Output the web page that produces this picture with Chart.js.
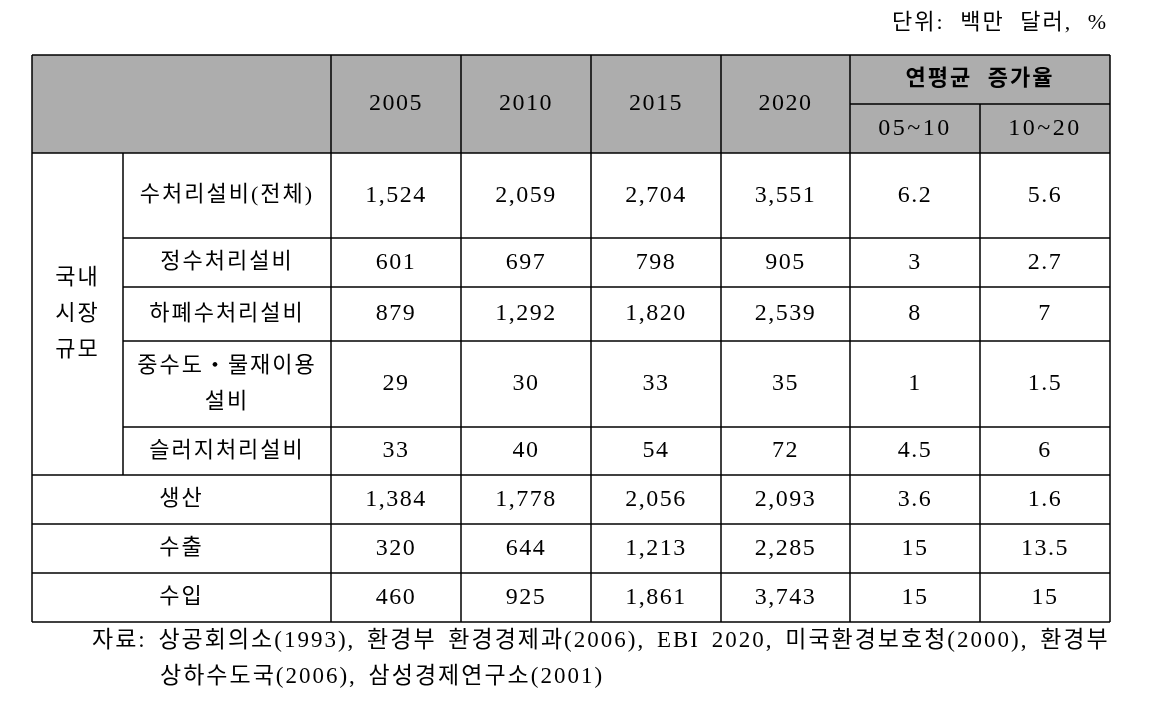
<!DOCTYPE html>
<html>
<head>
<meta charset="utf-8">
<script src="https://cdn.jsdelivr.net/npm/chart.js@4.4.1/dist/chart.umd.min.js"></script>
<style>
    html, body { margin: 0; padding: 0; background: #fff; }
    #wrap { width: 1159px; height: 709px; position: relative; }
</style>
</head>
<body>
<div id="wrap"><canvas id="table-chart"></canvas></div>
<script>
// 표 데이터
const unitText = '단위: 백만 달러, %';
const years = ['2005', '2010', '2015', '2020'];
const rateTitle = '연평균 증가율';
const rateLabels = ['05~10', '10~20'];
const groupLabel = ['국내', '시장', '규모'];
const rowLabels = [
    ['수처리설비(전체)'],
    ['정수처리설비'],
    ['하폐수처리설비'],
    ['중수도・물재이용', '설비'],
    ['슬러지처리설비'],
    ['생산'],
    ['수출'],
    ['수입']
];
const v2005 = [1524, 601, 879, 29, 33, 1384, 320, 460];
const v2010 = [2059, 697, 1292, 30, 40, 1778, 644, 925];
const v2015 = [2704, 798, 1820, 33, 54, 2056, 1213, 1861];
const v2020 = [3551, 905, 2539, 35, 72, 2093, 2285, 3743];
const g0510 = [6.2, 3, 8, 1, 4.5, 3.6, 15, 15];
const g1020 = [5.6, 2.7, 7, 1.5, 6, 1.6, 13.5, 15];
const sourceLines = [
    '자료: 상공회의소(1993), 환경부 환경경제과(2006), EBI 2020, 미국환경보호청(2000), 환경부',
    '상하수도국(2006), 삼성경제연구소(2001)'
];

// 레이아웃 (표 격자 위치)
const colEdges = [32, 123, 331, 461, 591, 721, 850, 980, 1110];
const rowEdges = [55, 153, 238, 287, 341, 427, 475, 524, 573, 622];
const headerSplit = 104;
const groupRows = 5; // 국내시장규모 하위 행 수

const FONT = "'Liberation Serif', 'Noto Sans CJK KR', serif";
const fmt = v => v.toLocaleString('en-US');

const tablePlugin = {
    id: 'tableDraw',
    afterDraw(chart) {
        const c = chart.ctx;
        const sx = v => chart.scales.x.getPixelForValue(v);
        const sy = v => chart.scales.y.getPixelForValue(v);
        const L = colEdges[0], R = colEdges[colEdges.length - 1];
        const T = rowEdges[0], B = rowEdges[rowEdges.length - 1];

        c.save();
        // 헤더 배경
        c.fillStyle = '#adadad';
        c.fillRect(sx(L), sy(T), sx(R) - sx(L), sy(rowEdges[1]) - sy(T));

        c.strokeStyle = '#000';
        c.lineWidth = 1.5;
        const line = (x1, y1, x2, y2) => {
            c.beginPath();
            c.moveTo(sx(x1), sy(y1));
            c.lineTo(sx(x2), sy(y2));
            c.stroke();
        };
        // 가로선
        line(L, T, R, T);
        line(L, rowEdges[1], R, rowEdges[1]);
        for (let i = 2; i < rowEdges.length; i++) {
            const x0 = i < groupRows + 1 ? colEdges[1] : L;
            line(x0, rowEdges[i], R, rowEdges[i]);
        }
        line(colEdges[6], headerSplit, R, headerSplit);
        // 세로선
        line(L, T, L, B);
        line(R, T, R, B);
        line(colEdges[1], rowEdges[1], colEdges[1], rowEdges[groupRows + 1]);
        for (let j = 2; j <= 6; j++) line(colEdges[j], T, colEdges[j], B);
        line(colEdges[7], headerSplit, colEdges[7], B);

        c.fillStyle = '#000';
        c.textAlign = 'center';
        c.textBaseline = 'middle';
        const text = (s, x, y) => c.fillText(s, sx(x), sy(y));
        const mid = (a, b) => (a + b) / 2;
        const setFont = (f, ls, ws) => {
            c.font = f + ' ' + FONT;
            c.letterSpacing = ls + 'px';
            c.wordSpacing = (ws || 0) + 'px';
        };

        // 헤더
        setFont('24px', 1.5);
        years.forEach((y, j) => text(y, mid(colEdges[j + 2], colEdges[j + 3]), mid(T, rowEdges[1])));
        setFont('bold 22px', 2, 8);
        text(rateTitle, mid(colEdges[6], R), mid(T, headerSplit));
        setFont('24px', 2.5);
        rateLabels.forEach((r, j) => text(r, mid(colEdges[j + 6], colEdges[j + 7]), mid(headerSplit, rowEdges[1])));

        // 행 이름
        setFont('22px', 2);
        const lh = 36;
        const gMid = mid(rowEdges[1], rowEdges[groupRows + 1]);
        groupLabel.forEach((g, k) => text(g, mid(L, colEdges[1]), gMid + (k - 1) * lh));
        rowLabels.forEach((lbl, i) => {
            const cy = mid(rowEdges[i + 1], rowEdges[i + 2]);
            const cx = i < groupRows ? mid(colEdges[1], colEdges[2]) : mid(L, colEdges[2]);
            lbl.forEach((s, k) => text(s, cx, cy + (k - (lbl.length - 1) / 2) * lh));
        });

        // 값
        setFont('24px', 1.5);
        const cols = [v2005, v2010, v2015, v2020, g0510, g1020];
        cols.forEach((arr, j) => {
            arr.forEach((v, i) => {
                const s = j < 4 ? fmt(v) : String(v);
                text(s, mid(colEdges[j + 2], colEdges[j + 3]), mid(rowEdges[i + 1], rowEdges[i + 2]));
            });
        });

        // 단위, 자료
        setFont('22px', 2, 8);
        c.textAlign = 'right';
        text(unitText, 1108, 23);
        setFont('23px', 2, 4);
        c.textAlign = 'left';
        text(sourceLines[0], 92, 641);
        text(sourceLines[1], 160, 677);
        c.restore();
    }
};

new Chart(document.getElementById('table-chart'), {
    type: 'scatter',
    data: { datasets: [{ data: [], pointRadius: 0 }] },
    options: {
        responsive: true,
        maintainAspectRatio: false,
        animation: false,
        layout: { padding: 0 },
        scales: {
            x: { type: 'linear', min: 0, max: 1159, display: false },
            y: { type: 'linear', min: 0, max: 709, reverse: true, display: false }
        },
        plugins: { legend: { display: false }, tooltip: { enabled: false } }
    },
    plugins: [tablePlugin]
});
</script>
</body>
</html>
